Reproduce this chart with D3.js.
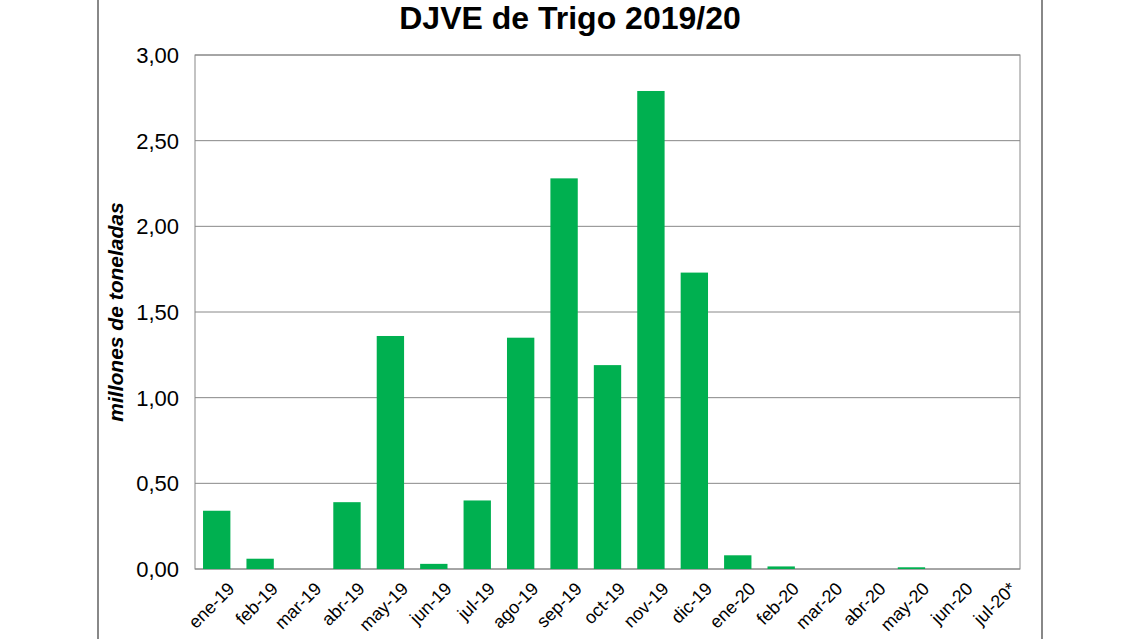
<!DOCTYPE html><html><head><meta charset="utf-8"><script src="https://cdn.jsdelivr.net/npm/d3@7"></script>
<style>body{margin:0;background:#fff}text{font-family:"Liberation Sans",Arial,sans-serif}</style></head><body>
<svg id="c" width="1140" height="639"></svg>
<script>
const categories=["ene-19","feb-19","mar-19","abr-19","may-19","jun-19","jul-19","ago-19","sep-19","oct-19","nov-19","dic-19","ene-20","feb-20","mar-20","abr-20","may-20","jun-20","jul-20*"];
const values=[0.34,0.06,0,0.39,1.36,0.03,0.40,1.35,2.28,1.19,2.79,1.73,0.08,0.015,0,0,0.01,0,0];
const yTicks=[0,0.5,1,1.5,2,2.5,3];
const svg=d3.select("#c");
const L=195,R=1020,T=55,B=569;
svg.append("line").attr("x1",98).attr("x2",98).attr("y1",0).attr("y2",639).attr("stroke","#888").attr("stroke-width",2);
svg.append("line").attr("x1",1042).attr("x2",1042).attr("y1",0).attr("y2",639).attr("stroke","#888").attr("stroke-width",2);
const x=d3.scaleBand().domain(categories).range([L,R]).paddingInner(0.37).paddingOuter(0.185);
const y=d3.scaleLinear().domain([0,3]).range([B,T]);
const fmt=d=>d3.format(".2f")(d).replace(".",",");
svg.append("g").selectAll("line").data(yTicks).join("line").attr("x1",L).attr("x2",R).attr("y1",d=>y(d)).attr("y2",d=>y(d)).attr("stroke","#888").attr("stroke-width",1);
svg.append("rect").attr("x",L).attr("y",T).attr("width",R-L).attr("height",B-T).attr("fill","none").attr("stroke","#888");
svg.append("g").selectAll("rect").data(values).join("rect").attr("x",(d,i)=>x(categories[i])).attr("width",x.bandwidth()).attr("y",d=>y(d)).attr("height",d=>B-y(d)).attr("fill","#00b050");
svg.append("g").selectAll("text").data(yTicks).join("text").attr("x",L-16).attr("y",d=>y(d)+8).attr("text-anchor","end").attr("font-size",22).text(fmt);
svg.append("g").selectAll("text").data(categories).join("text").attr("transform",d=>`translate(${x(d)+x.bandwidth()/2+10},${B+12}) rotate(-45)`).attr("text-anchor","end").attr("font-size",18).attr("dy","0.7em").text(d=>d);
svg.append("text").attr("x",570).attr("y",29).attr("text-anchor","middle").attr("font-size",32).attr("font-weight","bold").text("DJVE de Trigo 2019/20");
svg.append("text").attr("transform","translate(123,312) rotate(-90)").attr("text-anchor","middle").attr("font-size",21).attr("font-weight","bold").attr("font-style","italic").text("millones de toneladas");
</script></body></html>
